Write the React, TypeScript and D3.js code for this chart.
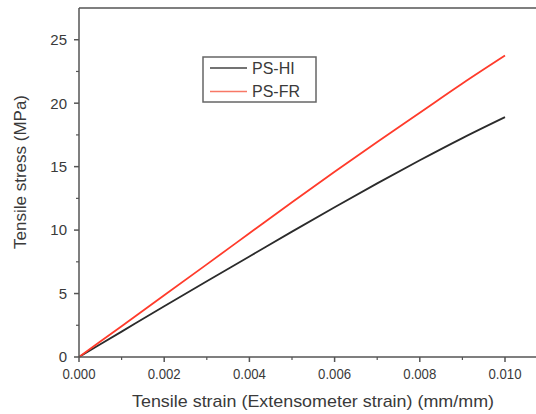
import React from "react";
import * as d3 from "d3";

const strain = [0, 0.001, 0.002, 0.003, 0.004, 0.005, 0.006, 0.007, 0.008, 0.009, 0.010];
const psHI = [0, 2.0, 4.0, 5.97, 7.92, 9.88, 11.8, 13.68, 15.5, 17.25, 18.9];
const psFR = [0, 2.43, 4.86, 7.3, 9.75, 12.2, 14.6, 16.95, 19.25, 21.55, 23.75];
const seriesNames = ["PS-HI", "PS-FR"];
const xMajorTicks = [0, 0.002, 0.004, 0.006, 0.008, 0.010];
const xMinorTicks = [0.001, 0.003, 0.005, 0.007, 0.009];
const yMajorTicks = [0, 5, 10, 15, 20, 25];
const yMinorTicks = [2.5, 7.5, 12.5, 17.5, 22.5];
const xTitle = "Tensile strain (Extensometer strain) (mm/mm)";
const yTitle = "Tensile stress (MPa)";

export default function App() {
  const W = 536, H = 414;
  const x = d3.scaleLinear().domain([0, 0.010]).range([79, 505]);
  const y = d3.scaleLinear().domain([0, 27.5]).range([357, 8]);
  const xEnd = x(0.0109);
  const line = d3.line<number>().x((_, i) => x(strain[i])).y((d) => y(d)).curve(d3.curveMonotoneX);
  const font = "'Liberation Sans', Arial, sans-serif";
  const axisColor = "#555";
  const textColor = "#3a3a3a";
  const colors = ["#2b2b2b", "#ff3b2b"];
  const legendColors = ["#444", "#f87866"];
  const data = [psHI, psFR];
  return (
    <svg width={W} height={H} style={{ position: "absolute", left: 0, top: 0, background: "#fff" }}>
      <rect x={0} y={0} width={W} height={H} fill="#fff" />
      {data.map((s, i) => (
        <path key={i} d={line(s) || ""} fill="none" stroke={colors[i]} strokeWidth={1.8} />
      ))}
      {/* frame */}
      <line x1={x(0)} x2={xEnd} y1={y(27.5)} y2={y(27.5)} stroke={axisColor} strokeWidth={1.5} />
      <line x1={x(0)} x2={xEnd} y1={y(0)} y2={y(0)} stroke={axisColor} strokeWidth={1.5} />
      <line x1={x(0)} x2={x(0)} y1={y(0)} y2={y(27.5)} stroke={axisColor} strokeWidth={1.5} />
      {yMajorTicks.map((t) => (
        <g key={"ym" + t}>
          <line x1={x(0) - 5} x2={x(0)} y1={y(t)} y2={y(t)} stroke={axisColor} strokeWidth={1.5} />
          <text x={67} y={y(t)} dy="0.36em" textAnchor="end" fontFamily={font} fontSize={15} fill={textColor}>{t}</text>
        </g>
      ))}
      {yMinorTicks.map((t) => (
        <line key={"yn" + t} x1={x(0) - 3} x2={x(0)} y1={y(t)} y2={y(t)} stroke={axisColor} strokeWidth={1.2} />
      ))}
      {xMajorTicks.map((t) => (
        <g key={"xm" + t}>
          <line x1={x(t)} x2={x(t)} y1={y(0)} y2={y(0) + 5} stroke={axisColor} strokeWidth={1.5} />
          <text x={x(t)} y={379} textAnchor="middle" fontFamily={font} fontSize={15} fill={textColor} textLength={33} lengthAdjust="spacingAndGlyphs">{d3.format(".3f")(t)}</text>
        </g>
      ))}
      {xMinorTicks.map((t) => (
        <line key={"xn" + t} x1={x(t)} x2={x(t)} y1={y(0)} y2={y(0) + 3} stroke={axisColor} strokeWidth={1.2} />
      ))}
      <text x={313} y={407} textAnchor="middle" fontFamily={font} fontSize={17} fill={textColor} textLength={362} lengthAdjust="spacingAndGlyphs">{xTitle}</text>
      <text transform="translate(26,172) rotate(-90)" textAnchor="middle" fontFamily={font} fontSize={17} fill={textColor}>{yTitle}</text>
      {/* legend */}
      <rect x={203} y={57} width={113} height={45} fill="#fff" stroke="#666" strokeWidth={1.5} />
      {seriesNames.map((n, i) => (
        <g key={n}>
          <line x1={210} x2={247} y1={68 + i * 23.5} y2={68 + i * 23.5} stroke={legendColors[i]} strokeWidth={1.6} />
          <text x={252} y={68 + i * 23.5} dy="0.36em" fontFamily={font} fontSize={16} fill={textColor}>{n}</text>
        </g>
      ))}
    </svg>
  );
}
